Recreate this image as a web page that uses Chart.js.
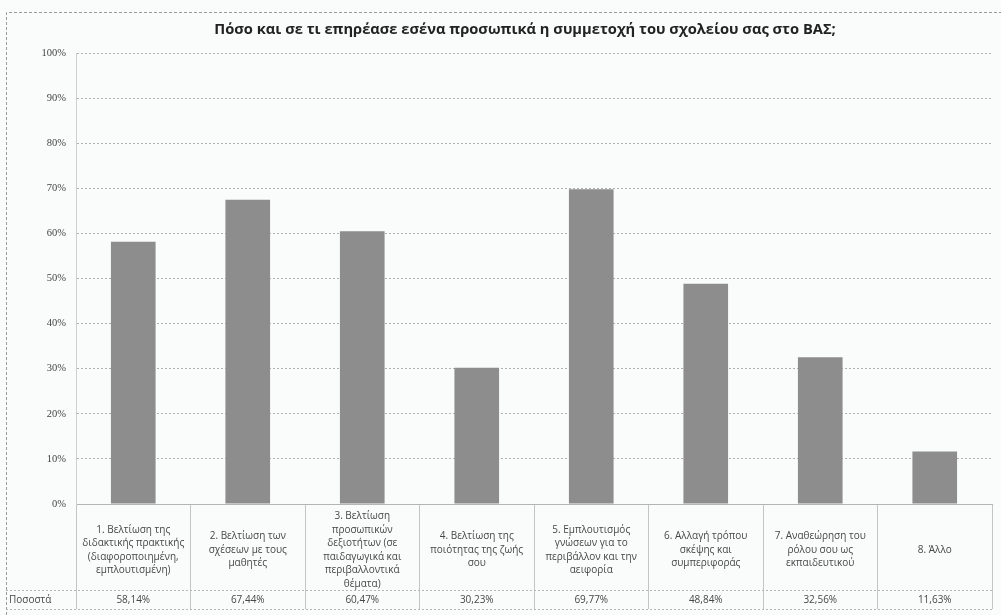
<!DOCTYPE html>
<html>
<head>
<meta charset="utf-8">
<script src="https://cdn.jsdelivr.net/npm/chart.js@4"></script>
<style>
  html, body { margin: 0; padding: 0; background: #fafbfb; }
  #wrap { position: relative; width: 1001px; height: 615px; }
</style>
</head>
<body>
<div id="wrap"><canvas id="c" width="1001" height="615"></canvas></div>
<script>
const chartTitle = 'Πόσο και σε τι επηρέασε εσένα προσωπικά η συμμετοχή του σχολείου σας στο ΒΑΣ;';
const categories = [
  ['1. Βελτίωση της', 'διδακτικής πρακτικής', '(διαφοροποιημένη,', 'εμπλουτισμένη)'],
  ['2. Βελτίωση των', 'σχέσεων με τους', 'μαθητές'],
  ['3. Βελτίωση', 'προσωπικών', 'δεξιοτήτων (σε', 'παιδαγωγικά και', 'περιβαλλοντικά', 'θέματα)'],
  ['4. Βελτίωση της', 'ποιότητας της ζωής', 'σου'],
  ['5. Εμπλουτισμός', 'γνώσεων για το', 'περιβάλλον και την', 'αειφορία'],
  ['6. Αλλαγή τρόπου', 'σκέψης και', 'συμπεριφοράς'],
  ['7. Αναθεώρηση του', 'ρόλου σου ως', 'εκπαιδευτικού'],
  ['8. Άλλο']
];
const seriesName = 'Ποσοστά';
const values = [58.14, 67.44, 60.47, 30.23, 69.77, 48.84, 32.56, 11.63];
const yMin = 0, yMax = 100, yStep = 10;

const fmt = v => v.toFixed(2).replace('.', ',') + '%';

const tablePlugin = {
  id: 'dataTable',
  beforeDraw(chart) {
    const ctx = chart.ctx;
    ctx.save();
    ctx.strokeStyle = '#9a9a9a';
    ctx.lineWidth = 1;
    ctx.setLineDash([3, 2]);
    ctx.beginPath();
    ctx.moveTo(6.5, 615);
    ctx.lineTo(6.5, 12.5);
    ctx.lineTo(1001, 12.5);
    ctx.stroke();
    ctx.restore();
  },
  afterDraw(chart) {
    const { ctx, chartArea, scales } = chart;
    const x = scales.x;
    // title
    ctx.save();
    ctx.fillStyle = '#222';
    ctx.font = 'bold 14.7px "Open Sans"';
    ctx.textAlign = 'center';
    ctx.textBaseline = 'middle';
    ctx.fillText(chartTitle, 525, 30);
    ctx.restore();

    const top = chartArea.bottom;
    const rowY = top + 86;
    const bottom = top + 105;
    ctx.save();
    ctx.strokeStyle = '#b5b5b5';
    ctx.lineWidth = 1;
    ctx.setLineDash([2, 2]);
    ctx.beginPath();
    ctx.moveTo(6, Math.round(rowY) + 0.5);
    ctx.lineTo(chartArea.right, Math.round(rowY) + 0.5);
    ctx.moveTo(6, Math.round(bottom) + 0.5);
    ctx.lineTo(chartArea.right, Math.round(bottom) + 0.5);
    ctx.stroke();
    ctx.setLineDash([]);

    ctx.fillStyle = '#474747';
    ctx.font = '10px "Open Sans"';
    ctx.textAlign = 'center';
    ctx.textBaseline = 'middle';
    const lh = 13.5;
    chart.data.labels.forEach((lab, i) => {
      const lines = Array.isArray(lab) ? lab : [lab];
      const cx = x.getPixelForValue(i);
      const cy = (top + rowY) / 2 + 3;
      const start = cy - (lines.length - 1) * lh / 2;
      lines.forEach((t, j) => ctx.fillText(t, cx, start + j * lh));
      const v = chart.data.datasets[0].data[i];
      ctx.fillText(fmt(v), cx, (rowY + bottom) / 2 + 1);
    });
    ctx.textAlign = 'left';
    ctx.fillText(chart.data.datasets[0].label, 9, (rowY + bottom) / 2 + 0.5);
    ctx.restore();
  }
};

new Chart(document.getElementById('c'), {
  type: 'bar',
  data: {
    labels: categories,
    datasets: [{
      label: seriesName,
      data: values,
      backgroundColor: '#8d8d8d',
      borderWidth: 0,
      barPercentage: 0.39,
      categoryPercentage: 1.0
    }]
  },
  options: {
    responsive: false,
    animation: false,
    devicePixelRatio: 1,
    layout: { padding: { left: 0, right: 9, top: 53, bottom: 0 } },
    plugins: {
      legend: { display: false },
      tooltip: { enabled: false },
      title: { display: false }
    },
    scales: {
      x: {
        offset: true,
        grid: {
          offset: true,
          drawOnChartArea: false,
          drawTicks: true,
          tickLength: 105,
          color: '#c4c4c4'
        },
        border: { display: true, color: '#b5b5b5', dash: [2, 2] },
        ticks: { display: false },
        afterFit(scale) { scale.height = 111; }
      },
      y: {
        min: yMin,
        max: yMax,
        ticks: {
          stepSize: yStep,
          padding: 10,
          color: '#444',
          font: { family: '"Liberation Serif"', size: 10.5 },
          callback: v => v + '%'
        },
        grid: { drawTicks: false, color: '#b0b0b0' },
        border: { display: true, color: '#d0d0d0', dash: [2, 2] },
        afterFit(scale) { scale.width = 76; }
      }
    }
  },
  plugins: [tablePlugin]
});
</script>
</body>
</html>
